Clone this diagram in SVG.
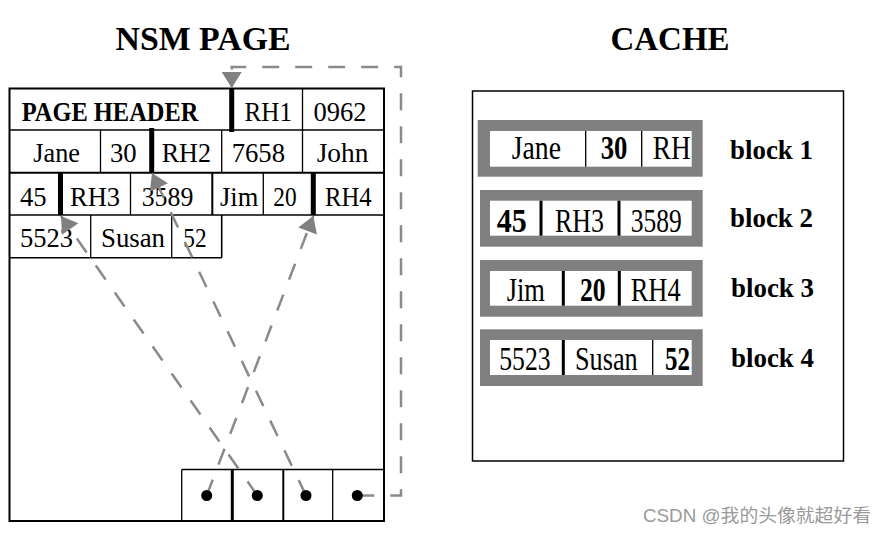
<svg xmlns="http://www.w3.org/2000/svg" width="889" height="536" viewBox="0 0 889 536">
<style>
.t{font-family:"Liberation Serif","Times New Roman",serif;font-size:28px;fill:#000}
.b{font-weight:bold}
.c{font-family:"Liberation Serif","Times New Roman",serif;font-size:33px;fill:#000}
.lbl{font-family:"Liberation Serif","Times New Roman",serif;font-size:27px;font-weight:bold;fill:#000}
.title{font-family:"Liberation Serif","Times New Roman",serif;font-size:33px;font-weight:bold;fill:#000}
.bar{stroke:#000;stroke-width:5}
.thin{stroke:#000;stroke-width:1.3}
.mid{stroke:#000;stroke-width:3}
.dash{fill:none;stroke:#8a8a8a;stroke-width:2.5;stroke-dasharray:17 16}
.gray{fill:#808080}
.white{fill:#fff}
</style>
<defs>
<marker id="ah" markerUnits="userSpaceOnUse" markerWidth="20" markerHeight="20" viewBox="0 0 16 20" refX="16" refY="10" orient="auto">
<path d="M0,0 L16,10 L0,20 Z" fill="#808080"/>
</marker>
</defs>
<rect width="889" height="536" fill="#fff"/>

<g id="title-nsm"><text class="title" x="203" y="49.5" text-anchor="middle" textLength="175" lengthAdjust="spacingAndGlyphs">NSM PAGE</text></g>
<g id="title-cache"><text class="title" x="670" y="49.5" text-anchor="middle" textLength="119" lengthAdjust="spacingAndGlyphs">CACHE</text></g>

<g id="nsm-page">
<rect x="9.5" y="88.5" width="374.5" height="432.5" fill="none" stroke="#000" stroke-width="2"/>
<line x1="9.5" y1="130" x2="384" y2="130" class="thin"/>
<line x1="9.5" y1="172.7" x2="384" y2="172.7" stroke="#000" stroke-width="2"/>
<line x1="9.5" y1="215" x2="384" y2="215" class="thin"/>
<line x1="9.5" y1="257.7" x2="221.7" y2="257.7" stroke="#000" stroke-width="1.6"/>
<line x1="302.5" y1="88.5" x2="302.5" y2="130" class="thin"/>
<line x1="100.5" y1="130" x2="100.5" y2="172.7" class="thin"/>
<line x1="221.7" y1="130" x2="221.7" y2="172.7" class="thin"/>
<line x1="302.5" y1="130" x2="302.5" y2="172.7" class="thin"/>
<line x1="130.5" y1="172.7" x2="130.5" y2="215" class="thin"/>
<line x1="212.3" y1="172.7" x2="212.3" y2="215" stroke="#000" stroke-width="2"/>
<line x1="263.3" y1="172.7" x2="263.3" y2="215" class="thin"/>
<line x1="90.7" y1="215" x2="90.7" y2="257.7" class="thin"/>
<line x1="171.7" y1="215" x2="171.7" y2="257.7" class="thin"/>
<line x1="221.7" y1="215" x2="221.7" y2="257.7" stroke="#000" stroke-width="1.6"/>
<line x1="231.7" y1="88" x2="231.7" y2="132" class="bar"/>
<line x1="151.7" y1="128" x2="151.7" y2="172" class="bar"/>
<line x1="60.5" y1="172" x2="60.5" y2="215" class="bar"/>
<line x1="313.3" y1="172" x2="313.3" y2="215" class="bar"/>
<text class="t b" x="21.7" y="121" font-size="26" textLength="176.7" lengthAdjust="spacingAndGlyphs">PAGE HEADER</text>
<text class="t" x="244.5" y="121" textLength="47.5" lengthAdjust="spacingAndGlyphs">RH1</text>
<text class="t" x="313.5" y="121" textLength="53" lengthAdjust="spacingAndGlyphs">0962</text>
<text class="t" x="33.3" y="161.7" textLength="46.7" lengthAdjust="spacingAndGlyphs">Jane</text>
<text class="t" x="110" y="161.7" textLength="26.7" lengthAdjust="spacingAndGlyphs">30</text>
<text class="t" x="161.7" y="161.7" textLength="49.3" lengthAdjust="spacingAndGlyphs">RH2</text>
<text class="t" x="231.7" y="161.7" textLength="53.3" lengthAdjust="spacingAndGlyphs">7658</text>
<text class="t" x="316.7" y="161.7" textLength="51.7" lengthAdjust="spacingAndGlyphs">John</text>
<text class="t" x="20" y="206" textLength="26.7" lengthAdjust="spacingAndGlyphs">45</text>
<text class="t" x="70" y="206" textLength="50" lengthAdjust="spacingAndGlyphs">RH3</text>
<text class="t" x="141.7" y="206" textLength="51.7" lengthAdjust="spacingAndGlyphs">3589</text>
<text class="t" x="220" y="206" textLength="38.3" lengthAdjust="spacingAndGlyphs">Jim</text>
<text class="t" x="273.3" y="206" textLength="23.3" lengthAdjust="spacingAndGlyphs">20</text>
<text class="t" x="325" y="206" textLength="46.7" lengthAdjust="spacingAndGlyphs">RH4</text>
<text class="t" x="20" y="246.5" textLength="53" lengthAdjust="spacingAndGlyphs">5523</text>
<text class="t" x="101" y="246.5" textLength="64" lengthAdjust="spacingAndGlyphs">Susan</text>
<text class="t" x="183.3" y="246.5" textLength="23.3" lengthAdjust="spacingAndGlyphs">52</text>
</g>

<g id="slots">
<line x1="181.7" y1="469.5" x2="384" y2="469.5" class="thin"/>
<line x1="181.7" y1="469.5" x2="181.7" y2="521" class="thin"/>
<line x1="232.3" y1="469.5" x2="232.3" y2="521" class="mid"/>
<line x1="283.3" y1="469.5" x2="283.3" y2="521" stroke="#000" stroke-width="2"/>
<line x1="332.7" y1="469.5" x2="332.7" y2="521" class="thin"/>
</g>

<g id="connectors">
<path class="dash" d="M357.3,495.5 H401 V67 H231.7 V88" marker-end="url(#ah)"/>
<path class="dash" d="M206.7,495.5 L313.3,216" marker-end="url(#ah)"/>
<path class="dash" d="M257.3,495.5 L61,216" marker-end="url(#ah)"/>
<path class="dash" d="M306,495.5 L152,173" marker-end="url(#ah)"/>
</g>

<g id="dots">
<circle cx="206.7" cy="495.5" r="5.5" fill="#000"/>
<circle cx="257.3" cy="495.5" r="5.5" fill="#000"/>
<circle cx="306" cy="495.5" r="5.5" fill="#000"/>
<circle cx="357.3" cy="495.5" r="5.5" fill="#000"/>
</g>

<g id="cache">
<rect x="472.5" y="91" width="371" height="370" fill="none" stroke="#000" stroke-width="1.5"/>
</g>

<g id="block1">
<rect class="gray" x="477.7" y="120" width="225" height="56.7"/>
<rect class="white" x="490" y="131" width="201.7" height="35.7"/>
<line x1="585.7" y1="131" x2="585.7" y2="166.7" class="thin"/>
<line x1="641.7" y1="131" x2="641.7" y2="166.7" class="thin"/>
<text class="c" x="511.7" y="159" textLength="49.3" lengthAdjust="spacingAndGlyphs">Jane</text>
<text class="c b" x="600.7" y="159" textLength="26.7" lengthAdjust="spacingAndGlyphs">30</text>
<text class="c" x="652.7" y="159" textLength="38" lengthAdjust="spacingAndGlyphs">RH</text>
<text class="lbl" x="730" y="159" textLength="83" lengthAdjust="spacingAndGlyphs">block 1</text>
</g>

<g id="block2">
<rect class="gray" x="480" y="190" width="222.7" height="56.7"/>
<rect class="white" x="490" y="200.7" width="201.7" height="35"/>
<line x1="541" y1="200.7" x2="541" y2="235.7" class="mid"/>
<line x1="619" y1="200.7" x2="619" y2="235.7" class="mid"/>
<text class="c b" x="496.7" y="232" textLength="30" lengthAdjust="spacingAndGlyphs">45</text>
<text class="c" x="555" y="232" textLength="49" lengthAdjust="spacingAndGlyphs">RH3</text>
<text class="c" x="630.7" y="232" textLength="51" lengthAdjust="spacingAndGlyphs">3589</text>
<text class="lbl" x="730" y="227" textLength="83" lengthAdjust="spacingAndGlyphs">block 2</text>
</g>

<g id="block3">
<rect class="gray" x="480" y="260" width="222.7" height="56.7"/>
<rect class="white" x="490" y="271" width="201.7" height="34.7"/>
<line x1="563.3" y1="271" x2="563.3" y2="305.7" class="mid"/>
<line x1="619.3" y1="271" x2="619.3" y2="305.7" class="mid"/>
<text class="c" x="506.7" y="300.5" textLength="38.3" lengthAdjust="spacingAndGlyphs">Jim</text>
<text class="c b" x="580" y="300.5" textLength="25.7" lengthAdjust="spacingAndGlyphs">20</text>
<text class="c" x="630.7" y="300.5" textLength="50" lengthAdjust="spacingAndGlyphs">RH4</text>
<text class="lbl" x="731" y="297" textLength="83" lengthAdjust="spacingAndGlyphs">block 3</text>
</g>

<g id="block4">
<rect class="gray" x="480" y="329.3" width="222.7" height="56.7"/>
<rect class="white" x="490" y="340" width="201.7" height="35"/>
<line x1="563.3" y1="340" x2="563.3" y2="375" class="mid"/>
<line x1="652.7" y1="340" x2="652.7" y2="375" class="thin"/>
<text class="c" x="499.3" y="369.5" textLength="51.3" lengthAdjust="spacingAndGlyphs">5523</text>
<text class="c" x="575" y="369.5" textLength="62.7" lengthAdjust="spacingAndGlyphs">Susan</text>
<text class="c b" x="665" y="369.5" textLength="25" lengthAdjust="spacingAndGlyphs">52</text>
<text class="lbl" x="731" y="367" textLength="83" lengthAdjust="spacingAndGlyphs">block 4</text>
</g>

<g id="watermark">
<text x="643" y="522" font-family="'Liberation Sans','Noto Sans CJK SC',sans-serif" font-size="18" fill="#9a9a9a" textLength="228" lengthAdjust="spacingAndGlyphs">CSDN @我的头像就超好看</text>
</g>
</svg>
